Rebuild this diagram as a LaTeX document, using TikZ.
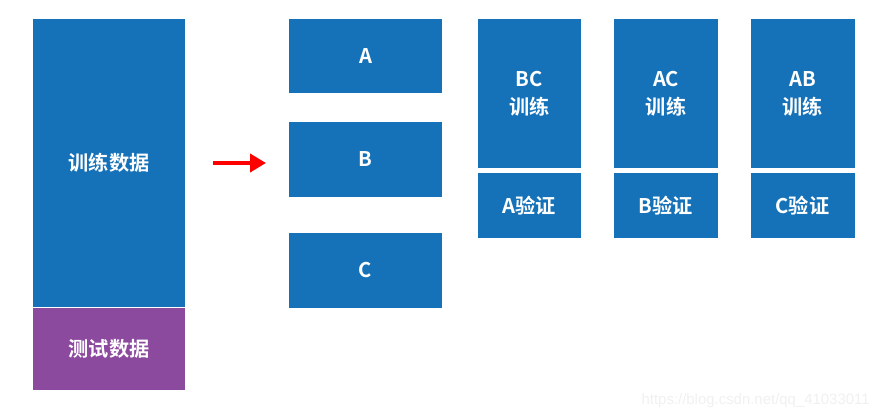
\documentclass[tikz,border=0pt]{standalone}
\usepackage{fontspec}
\setmainfont{Noto Sans CJK SC}[BoldFont={Noto Sans CJK SC Bold}]
\newfontfamily\urlfont{Liberation Sans}
\usetikzlibrary{arrows.meta}
\definecolor{boxblue}{RGB}{21,114,184}
\definecolor{testpurple}{RGB}{140,74,158}
\begin{document}
\begin{tikzpicture}[x=0.02cm, y=-0.02cm,
    box/.style={fill=boxblue, draw=none, text=white, inner sep=0pt,
      font=\fontsize{11.5}{16}\selectfont\bfseries, align=center},
    fold/.style={box, minimum width=3.06cm, minimum height=1.5cm},
    trainbox/.style={box, minimum width=2.08cm, minimum height=2.98cm},
    valbox/.style={box, minimum width=2.08cm, minimum height=1.3cm}]
  \useasboundingbox (0,0) rectangle (879,419);
  % whole data set
  \node[box, minimum width=3.04cm, minimum height=5.78cm] (train) at (109,163) {训练数据};
  \node[box, fill=testpurple, minimum width=3.04cm, minimum height=1.64cm] (test) at (109,349) {测试数据};
  % split arrow
  \coordinate (from) at (213,163);
  \coordinate (to) at (266,163);
  \draw[red, line width=2.8pt, -{Triangle[length=0.32cm, width=0.36cm]}] (from) -- (to);
  % three folds
  \node[fold, minimum height=1.48cm] (A) at (365.5,56) {A};
  \node[fold] (B) at (365.5,159.5) {B};
  \node[fold] (C) at (365.5,270.5) {C};
  % train / validate pairs
  \node[trainbox] (bc) at (529.5,93.5) {BC\\训练};
  \node[valbox] (va) at (529.5,205.5) {A验证};
  \node[trainbox] (ac) at (666,93.5) {AC\\训练};
  \node[valbox] (vb) at (666,205.5) {B验证};
  \node[trainbox] (ab) at (802.5,93.5) {AB\\训练};
  \node[valbox] (vc) at (802.5,205.5) {C验证};
  % watermark
  \node[anchor=east, text=black!6, inner sep=0pt, font=\urlfont\fontsize{8.5}{10}\selectfont] (mark) at (870,401) {https://blog.csdn.net/qq\_41033011};
\end{tikzpicture}
\end{document}
